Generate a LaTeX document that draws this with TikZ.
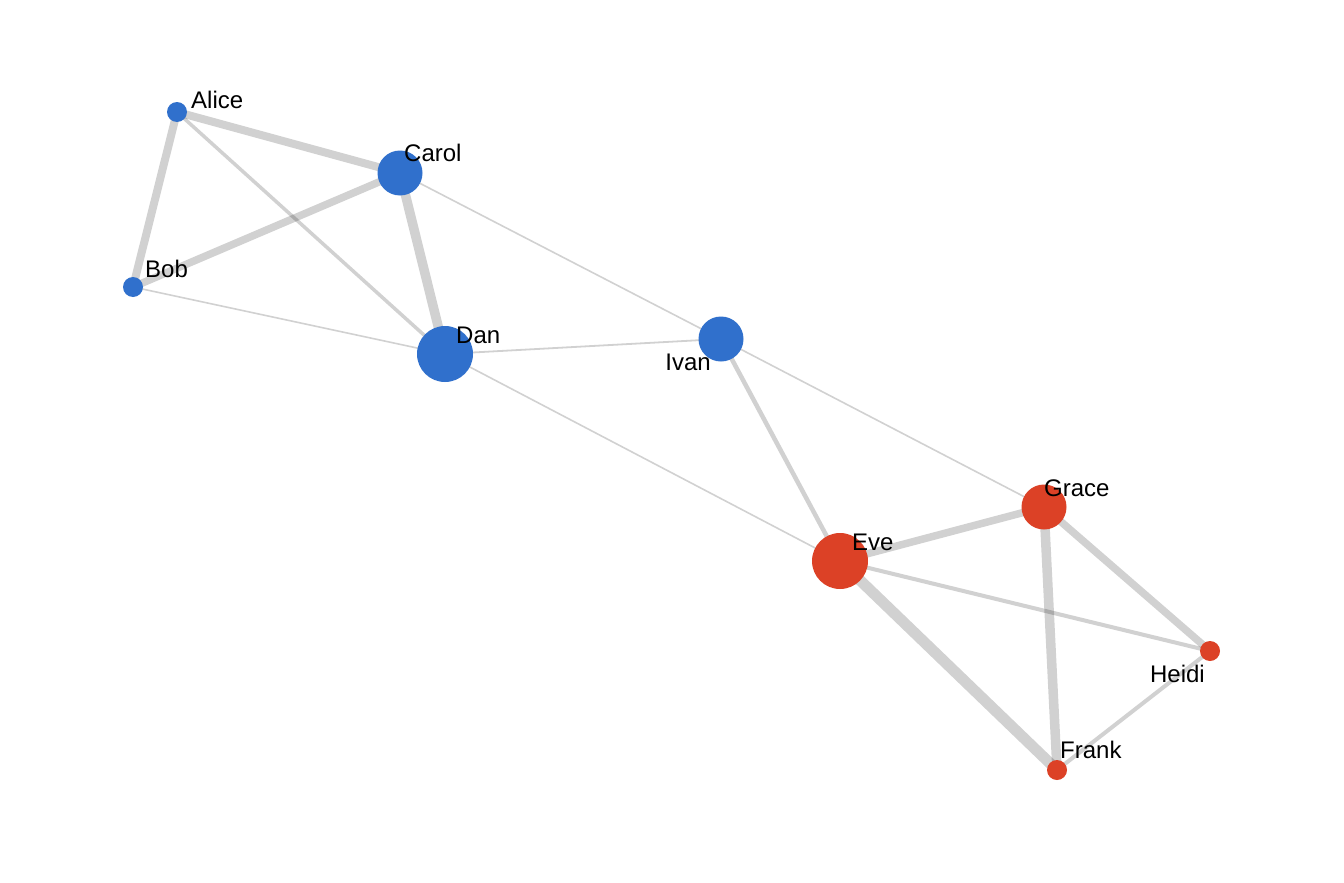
\documentclass[tikz,border=0pt]{standalone}
\usepackage{fontspec}
\setmainfont{Liberation Sans}
\usetikzlibrary{backgrounds}
\definecolor{nblue}{RGB}{48,112,204}
\definecolor{nred}{RGB}{220,65,38}
\tikzset{
  vtx/.style={circle,inner sep=0pt,minimum size=#1,draw=none},
  bluev/.style={vtx=#1,fill=nblue},
  redv/.style={vtx=#1,fill=nred},
  lab/.style={inner sep=0pt,font=\fontsize{24}{24}\selectfont,text=black},
  edge/.style={draw=black,draw opacity=0.18,line width=#1},
}
\begin{document}
\begin{tikzpicture}[x=1pt,y=-1pt]
\useasboundingbox (0,0) rectangle (1344,883);
% vertices
\node[bluev=20pt] (alice) at (177,112) {};
\node[bluev=20pt] (bob) at (133,287) {};
\node[bluev=45pt] (carol) at (400,173) {};
\node[bluev=56pt] (dan) at (445,354) {};
\node[bluev=45pt] (ivan) at (721,339) {};
\node[redv=56pt] (eve) at (840,561) {};
\node[redv=45pt] (grace) at (1044,507) {};
\node[redv=20pt] (heidi) at (1210,651) {};
\node[redv=20pt] (frank) at (1057,770) {};
% edges
\begin{scope}[on background layer]
\fill[white] (0,0) rectangle (1344,883);
\draw[edge=8pt] (alice.center) -- (carol.center);
\draw[edge=8pt] (alice.center) -- (bob.center);
\draw[edge=3.5pt] (alice.center) -- (dan.center);
\draw[edge=7.5pt] (bob.center) -- (carol.center);
\draw[edge=1.6pt] (bob.center) -- (dan.center);
\draw[edge=9.5pt] (carol.center) -- (dan.center);
\draw[edge=1.6pt] (carol.center) -- (ivan.center);
\draw[edge=1.8pt] (dan.center) -- (ivan.center);
\draw[edge=1.6pt] (dan.center) -- (eve.center);
\draw[edge=4.5pt] (ivan.center) -- (eve.center);
\draw[edge=1.6pt] (ivan.center) -- (grace.center);
\draw[edge=7.5pt] (eve.center) -- (grace.center);
\draw[edge=4pt] (eve.center) -- (heidi.center);
\draw[edge=11pt] (eve.center) -- (frank.center);
\draw[edge=9.5pt] (grace.center) -- (frank.center);
\draw[edge=7.5pt] (grace.center) -- (heidi.center);
\draw[edge=4pt] (heidi.center) -- (frank.center);
\end{scope}
% labels
\node[lab,anchor=base west] (lalice) at (191,108) {Alice};
\node[lab,anchor=base west] (lbob) at (145,277) {Bob};
\node[lab,anchor=base west] (lcarol) at (404,161) {Carol};
\node[lab,anchor=base west] (ldan) at (456,343) {Dan};
\node[lab,anchor=base east] (livan) at (711,370) {Ivan};
\node[lab,anchor=base west] (leve) at (852,550) {Eve};
\node[lab,anchor=base west] (lgrace) at (1044,496) {Grace};
\node[lab,anchor=base east] (lheidi) at (1205,682) {Heidi};
\node[lab,anchor=base west] (lfrank) at (1060,758) {Frank};
\end{tikzpicture}
\end{document}
